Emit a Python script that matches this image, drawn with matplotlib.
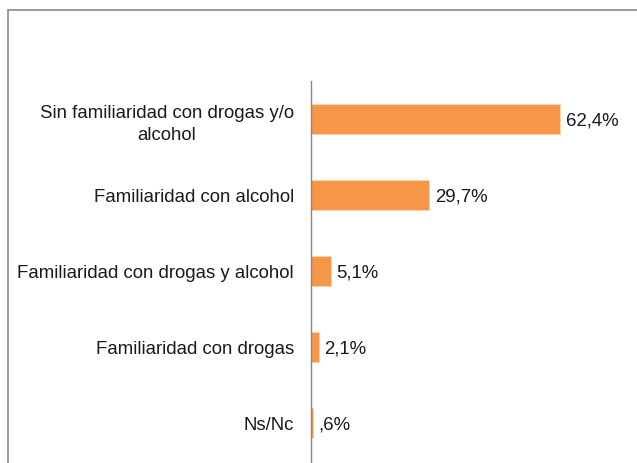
import matplotlib
matplotlib.use("Agg")
import matplotlib.pyplot as plt
from matplotlib.patches import Rectangle

plt.rcParams['font.family'] = ['Liberation Sans', 'DejaVu Sans']

categories = [
    "Sin familiaridad con drogas y/o\nalcohol",
    "Familiaridad con alcohol",
    "Familiaridad con drogas y alcohol",
    "Familiaridad con drogas",
    "Ns/Nc",
]
values = [62.4, 29.7, 5.1, 2.1, 0.6]
value_labels = ["62,4%", "29,7%", "5,1%", "2,1%", ",6%"]

W, H = 637, 464
fig = plt.figure(figsize=(W / 100, H / 100), dpi=100)

# outer chart frame (runs off the right and bottom edges)
fig.patches.append(Rectangle((7.5 / W, -0.05), 1.2, (H - 10.5) / H + 0.05,
                             transform=fig.transFigure, fill=False,
                             edgecolor='#8a8a8a', linewidth=1.2))

ax_left = 310.5 / W
ax = fig.add_axes([ax_left, 0.0, 1 - ax_left, (H - 82) / H])
ax.set_facecolor('none')

ypos = list(range(len(categories)))
ax.barh(ypos, values, height=0.395, color='#f79646', edgecolor='#fbd5b5',
        linewidth=0.6)
ax.set_ylim(len(categories) - 0.5 + 0.03, -0.5)
ax.set_xlim(0, (W - 310.5) / 4.0)

for y, v, lab in zip(ypos, values, value_labels):
    ax.annotate(lab, (v, y), xytext=(4, -0.8), textcoords='offset points',
                va='center', ha='left', fontsize=13.4, color='#1a1a1a')

ax.set_yticks(ypos)
ax.set_yticklabels(categories, fontsize=13.4, color='#1a1a1a',
                   multialignment='center', linespacing=1.35)
ax.tick_params(axis='y', length=0, pad=12)
ax.set_xticks([])
for s in ['top', 'right', 'bottom']:
    ax.spines[s].set_visible(False)
ax.spines['left'].set_color('#868686')
ax.spines['left'].set_linewidth(1.0)

fig.savefig('out.png', dpi=100, facecolor='white')
